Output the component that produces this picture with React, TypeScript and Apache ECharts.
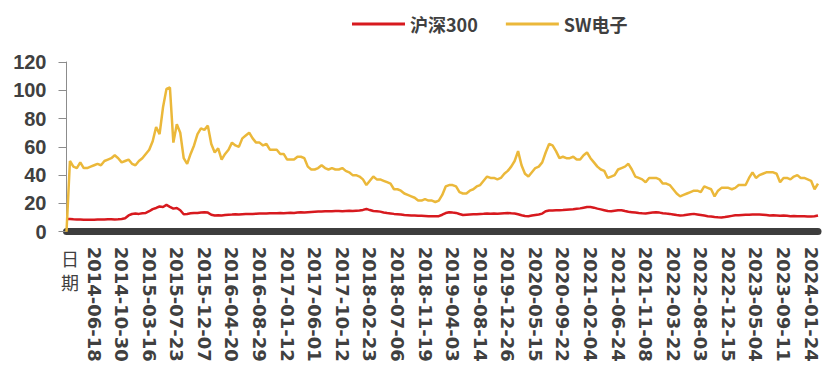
import React, { useEffect, useRef } from "react";
import * as echarts from "echarts";

// Tick-label dates on the category axis (one every 8 points)
const tickDates = [
  "2014-06-18", "2014-10-30", "2015-03-16", "2015-07-23", "2015-12-07",
  "2016-04-20", "2016-08-29", "2017-01-12", "2017-06-01", "2017-10-12",
  "2018-02-23", "2018-07-06", "2018-11-19", "2019-04-03", "2019-08-14",
  "2019-12-26", "2020-05-15", "2020-09-22", "2021-02-04", "2021-06-24",
  "2021-11-08", "2022-03-22", "2022-08-03", "2022-12-15", "2023-05-04",
  "2023-09-11", "2024-01-24",
];
const firstCategory = "日期";
const pointsPerTick = 8;

// SW电子
const swElec = [
  0, 50, 46, 45, 49, 45, 45, 46, 47, 48,
  47, 50, 51, 52, 54, 52, 49, 50, 51, 48,
  47, 50, 52, 55, 58, 64, 74, 69, 88, 101,
  102, 63, 76, 70, 52, 48, 55, 61, 69, 73,
  72, 75, 62, 56, 59, 51, 55, 58, 63, 61,
  60, 66, 68, 70, 66, 63, 63, 61, 62, 58,
  58, 58, 55, 55, 51, 51, 51, 53, 53, 52,
  46, 44, 44, 45, 47, 45, 44, 45, 44, 44,
  45, 43, 42, 40, 40, 39, 37, 33, 36, 39,
  37, 37, 36, 35, 34, 30, 30, 29, 27, 26,
  25, 24, 22, 22, 23, 22, 22, 21, 22, 26,
  32, 33, 33, 32, 28, 27, 27, 29, 30, 32,
  33, 36, 39, 38, 38, 37, 38, 41, 43, 46,
  50, 57, 47, 41, 39, 42, 45, 46, 49, 56,
  62, 61, 57, 52, 53, 52, 52, 53, 51, 51,
  54, 56, 52, 49, 46, 44, 43, 38, 39, 40,
  44, 45, 46, 48, 44, 39, 38, 37, 35, 38,
  38, 38, 37, 34, 34, 33, 30, 27, 25, 26,
  27, 28, 29, 29, 28, 32, 31, 30, 25, 29,
  31, 31, 31, 30, 31, 33, 33, 33, 38, 42,
  38, 40, 41, 42, 42, 42, 41, 35, 38, 38,
  37, 39, 40, 38, 38, 37, 36, 30, 34,
];

// 沪深300
const hs300 = [
  9, 9, 8.8, 8.7, 8.6, 8.5, 8.4, 8.4, 8.5, 8.6,
  8.6, 8.7, 8.8, 8.8, 8.7, 8.8, 9.0, 9.5, 11.5, 12.5,
  12.8, 12.6, 13, 13.3, 14.5, 16, 16.8, 17.8, 17.5, 19,
  17.6, 16.3, 16.8, 15.2, 12.3, 12.5, 13, 13.3, 13.2, 13.6,
  13.8, 13.5, 12, 11.4, 11.6, 11.5, 11.8, 12, 12.1, 12.3,
  12.2, 12.4, 12.5, 12.6, 12.6, 12.7, 12.8, 12.9, 12.8, 13,
  13, 13.1, 13.2, 13.1, 13.3, 13.4, 13.3, 13.6, 13.8, 13.6,
  13.8, 14, 14.1, 14.2, 14.3, 14.4, 14.5, 14.4, 14.6, 14.7,
  14.5, 14.7, 14.8, 14.6, 14.8, 15, 15.4, 16.1, 15.3, 14.6,
  14.5, 14.2, 13.6, 13.2, 12.9, 12.6, 12.4, 12.2, 11.8, 11.7,
  11.5, 11.4, 11.2, 11.2, 11.1, 11, 11, 10.9, 11, 12,
  13.2, 13.8, 13.5, 13.3, 12.5, 11.8, 12, 12.2, 12.3, 12.4,
  12.6, 12.7, 12.9, 12.7, 12.8, 12.7, 12.9, 13.1, 13.3, 13,
  12.8, 12.3, 11.6, 11.1, 11, 11.4, 11.8, 12.2, 12.8, 14.5,
  15, 15, 15.1, 15.2, 15.3, 15.5, 15.7, 15.8, 16.2, 16.5,
  17, 17.5, 17.4, 17, 16.3, 15.8, 15.2, 14.6, 14.5, 14.8,
  15.1, 15.2, 14.6, 14.1, 13.8, 13.5, 13.2, 13, 12.9, 13.2,
  13.5, 13.8, 13.5, 13.1, 12.8, 12.6, 12.2, 11.8, 11.5, 11.7,
  12, 12.3, 12.6, 12.2, 11.8, 11.4, 11, 10.7, 10.4, 10.2,
  10.1, 10.4, 10.8, 11.2, 11.6, 11.7, 11.8, 11.9, 12, 12.1,
  12.2, 12.1, 12, 11.8, 11.5, 11.6, 11.5, 11.3, 11.4, 11.2,
  11, 11.1, 11, 10.9, 10.9, 10.8, 10.8, 10.9, 11.5,
];

const seriesNames = ["沪深300", "SW电子"];
const yTicks = { min: 0, max: 120, interval: 20 };

const heads = [firstCategory, ...tickDates];
const categories: string[] = swElec.map((_, i) => {
  const k = Math.floor(i / pointsPerTick);
  const j = i % pointsPerTick;
  return j === 0 ? heads[k] : `${heads[k]}+${j}`;
});

const textColor = "#404040";

export default function App() {
  const ref = useRef<HTMLDivElement>(null);
  useEffect(() => {
    if (!ref.current) return;
    const chart = echarts.init(ref.current, undefined, { renderer: "svg" });
    chart.setOption({
      animation: false,
      backgroundColor: "#ffffff",
      grid: { left: 66.5, right: 8, top: 62, bottom: 137.3, containLabel: false },
      legend: {
        left: 347,
        top: 10,
        icon: "rect",
        itemWidth: 53,
        itemHeight: 3,
        itemGap: 28,
        textStyle: {
          fontFamily: "Noto Sans CJK SC",
          fontWeight: "bold",
          fontSize: 18,
          color: textColor,
        },
        data: seriesNames,
      },
      xAxis: {
        type: "category",
        data: categories,
        boundaryGap: false,
        offset: 3.5,
        axisLine: { show: true, lineStyle: { color: "#3d3d3d", width: 7 } },
        axisTick: { show: false },
        axisLabel: {
          interval: (index: number) => index > 0 && index % pointsPerTick === 0,
          rotate: -90,
          margin: 11.5,
          fontFamily: "DejaVu Sans",
          fontWeight: "bold",
          fontSize: 18,
          color: textColor,
        },
        splitLine: { show: false },
      },
      yAxis: {
        type: "value",
        min: yTicks.min,
        max: yTicks.max,
        interval: yTicks.interval,
        axisLine: { show: true, lineStyle: { color: "#8c8c8c", width: 1 } },
        axisTick: { show: true, inside: false, length: 8, lineStyle: { color: "#8c8c8c" } },
        axisLabel: {
          margin: 20,
          fontFamily: "Liberation Sans",
          fontWeight: "bold",
          fontSize: 20,
          color: textColor,
        },
        splitLine: { show: false },
      },
      graphic: [
        {
          type: "text",
          left: 61,
          top: 246,
          style: {
            text: "日\n期",
            fontFamily: "Noto Sans CJK SC",
            fontSize: 18,
            lineHeight: 24,
            fill: textColor,
          },
        },
      ],
      series: [
        {
          name: seriesNames[0],
          type: "line",
          data: hs300,
          showSymbol: false,
          symbol: "none",
          lineStyle: { color: "#d7191e", width: 2.5 },
          itemStyle: { color: "#d7191e" },
        },
        {
          name: seriesNames[1],
          type: "line",
          data: swElec,
          showSymbol: false,
          symbol: "none",
          lineStyle: { color: "#ebb83a", width: 2.5 },
          itemStyle: { color: "#ebb83a" },
        },
      ],
    });
    return () => chart.dispose();
  }, []);
  return (
    <div
      ref={ref}
      style={{ position: "fixed", left: 0, top: 0, width: 826, height: 369 }}
    />
  );
}
